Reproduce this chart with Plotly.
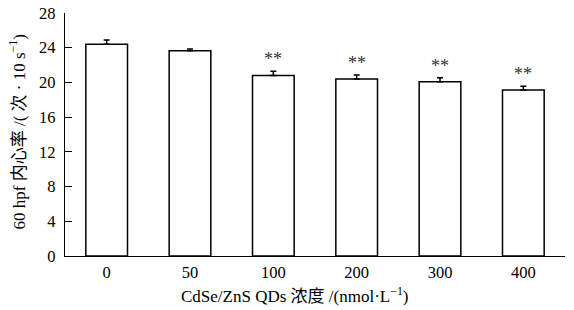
import plotly.graph_objects as go

categories = ["0", "50", "100", "200", "300", "400"]
values = [24.4, 23.65, 20.8, 20.4, 20.08, 19.13]
errors = [0.5, 0.2, 0.5, 0.45, 0.45, 0.42]
stars = ["", "", "**", "**", "**", "**"]
y_ticks = [0, 4, 8, 12, 16, 20, 24, 28]
x_title = "CdSe/ZnS QDs 浓度 /(nmol·L<sup>−1</sup>)"
y_title = "60 hpf 内心率 /( 次 · 10 s<sup>−1</sup>)"

FONT = "Liberation Serif, Times New Roman, Noto Sans CJK SC, serif"

fig = go.Figure()
fig.add_trace(go.Bar(
    x=categories, y=values, width=0.5,
    marker=dict(color="white", line=dict(color="black", width=1.5)),
    error_y=dict(type="data", array=errors, arrayminus=[0]*len(errors),
                 symmetric=False, color="black", thickness=1.5, width=3),
))

for i, (v, e, s) in enumerate(zip(values, errors, stars)):
    if s:
        fig.add_annotation(x=i, y=v + e, xref="x", yref="y", text=s,
                           showarrow=False, yanchor="middle", yshift=12,
                           font=dict(family=FONT, size=18, color="#333"))

fig.add_annotation(x=0, y=0.5, xref="paper", yref="paper", text=y_title,
                   textangle=-90, showarrow=False, xanchor="center",
                   yanchor="middle", xshift=-48, yshift=2,
                   font=dict(family=FONT, size=17, color="black"))
fig.add_annotation(x=0.5, y=0, xref="paper", yref="paper", text=x_title,
                   showarrow=False, xanchor="center", yanchor="middle",
                   xshift=-20, yshift=-39,
                   font=dict(family=FONT, size=17, color="black"))

fig.update_layout(
    width=574, height=310,
    margin=dict(l=65, r=9, t=13, b=54, autoexpand=False),
    plot_bgcolor="white", paper_bgcolor="white",
    showlegend=False,
    font=dict(family=FONT, size=16, color="black"),
)
fig.update_xaxes(
    type="category", range=[-0.5, 5.5], automargin=False,
    showline=True, linecolor="black", linewidth=1.2,
    ticks="", showgrid=False, ticklabelstandoff=1,
    tickfont=dict(family=FONT, size=16.5),
)
fig.update_yaxes(
    range=[0, 28], tickvals=y_ticks, automargin=False,
    showline=True, linecolor="black", linewidth=1.2,
    ticks="inside", ticklen=7, tickcolor="black", tickwidth=1.2,
    showgrid=False, zeroline=False, ticklabelstandoff=5,
    tickfont=dict(family=FONT, size=16.5),
)

fig.write_html("out.html", config={"displayModeBar": False},
               post_script="document.body.style.margin='0';")
